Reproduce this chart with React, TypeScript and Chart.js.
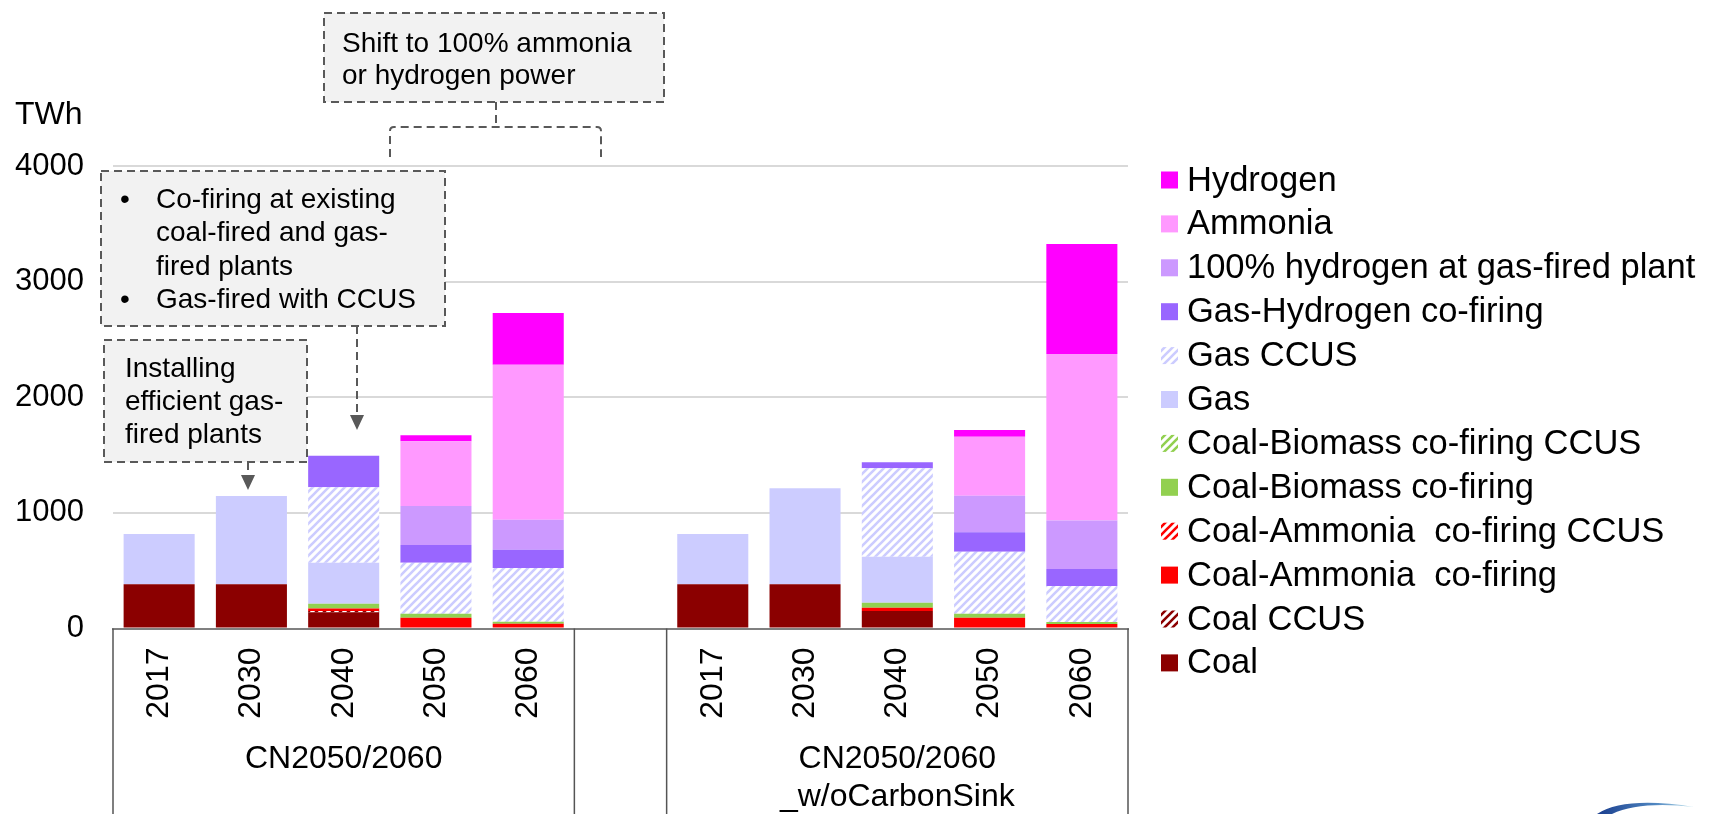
import React, { useEffect, useRef } from "react";
import { Chart, registerables } from "chart.js";
Chart.register(...registerables);

const FONT = "'Liberation Sans', Arial, Helvetica, sans-serif";

// Categories: two scenario groups with an empty spacer slot in between
const categories = ["2017", "2030", "2040", "2050", "2060", "", "2017", "2030", "2040", "2050", "2060"];
const groupNames = [["CN2050/2060"], ["CN2050/2060", "_w/oCarbonSink"]];
const groupCenterIndex = [2, 8];
const yTickValues = [0, 1000, 2000, 3000, 4000];
const unitLabel = "TWh";

// Series values (TWh), stacked bottom -> top
const coal = [382, 382, 140, 0, 0, null, 382, 382, 151, 0, 0];
const coalCCUS = [0, 0, 12, 0, 0, null, 0, 0, 0, 0, 0];
const coalAmmonia = [0, 0, 20, 94, 42, null, 0, 0, 29, 94, 39];
const coalAmmoniaCCUS = [0, 0, 0, 0, 0, null, 0, 0, 0, 0, 0];
const coalBiomass = [0, 0, 43, 34, 17, null, 0, 0, 43, 34, 17];
const coalBiomassCCUS = [0, 0, 0, 0, 0, null, 0, 0, 0, 0, 0];
const gas = [435, 764, 354, 0, 0, null, 435, 831, 398, 0, 0];
const gasCCUS = [0, 0, 652, 441, 464, null, 0, 0, 765, 536, 312];
const gasHydrogen = [0, 0, 274, 153, 159, null, 0, 0, 52, 168, 147];
const hydrogen100 = [0, 0, 0, 338, 259, null, 0, 0, 0, 317, 418];
const ammonia = [0, 0, 0, 559, 1341, null, 0, 0, 0, 510, 1442];
const hydrogen = [0, 0, 0, 52, 447, null, 0, 0, 0, 58, 951];

const seriesNames = [
  "Coal",
  "Coal CCUS",
  "Coal-Ammonia  co-firing",
  "Coal-Ammonia  co-firing CCUS",
  "Coal-Biomass co-firing",
  "Coal-Biomass co-firing CCUS",
  "Gas",
  "Gas CCUS",
  "Gas-Hydrogen co-firing",
  "100% hydrogen at gas-fired plant",
  "Ammonia",
  "Hydrogen",
];
const seriesData = [
  coal, coalCCUS, coalAmmonia, coalAmmoniaCCUS, coalBiomass, coalBiomassCCUS,
  gas, gasCCUS, gasHydrogen, hydrogen100, ammonia, hydrogen,
];
const seriesColors = [
  "#8B0000", "#8B0000", "#FF0000", "#FF0000", "#92D050", "#92D050",
  "#CCCCFF", "#CCCCFF", "#9966FF", "#CC99FF", "#FF99FF", "#FF00FF",
];
const seriesHatched = [false, true, false, true, false, true, false, true, false, false, false, false];

function makeHatch(color: string): CanvasPattern | string {
  const c = document.createElement("canvas");
  c.width = 8;
  c.height = 8;
  const g = c.getContext("2d");
  if (!g) return color;
  g.fillStyle = "#ffffff";
  g.fillRect(0, 0, 8, 8);
  g.strokeStyle = color;
  g.lineWidth = 2.6;
  g.beginPath();
  g.moveTo(-2, 10);
  g.lineTo(10, -2);
  g.moveTo(-2, 2);
  g.lineTo(2, -2);
  g.moveTo(6, 10);
  g.lineTo(10, 6);
  g.stroke();
  const p = g.createPattern(c, "repeat");
  return p || color;
}

function dashedRect(ctx: CanvasRenderingContext2D, x: number, y: number, w: number, h: number) {
  ctx.save();
  ctx.fillStyle = "#F2F2F2";
  ctx.fillRect(x, y, w, h);
  ctx.setLineDash([8, 5]);
  ctx.strokeStyle = "#595959";
  ctx.lineWidth = 2;
  ctx.strokeRect(x, y, w, h);
  ctx.restore();
}

function arrowDown(ctx: CanvasRenderingContext2D, x: number, y0: number, y1: number) {
  ctx.save();
  ctx.strokeStyle = "#595959";
  ctx.lineWidth = 2;
  ctx.setLineDash([8, 5]);
  ctx.beginPath();
  ctx.moveTo(x, y0);
  ctx.lineTo(x, y1 - 14);
  ctx.stroke();
  ctx.setLineDash([]);
  ctx.fillStyle = "#595959";
  ctx.beginPath();
  ctx.moveTo(x - 7, y1 - 15);
  ctx.lineTo(x + 7, y1 - 15);
  ctx.lineTo(x, y1);
  ctx.closePath();
  ctx.fill();
  ctx.restore();
}

const decorPlugin = {
  id: "decor",
  afterDraw(chart: any) {
    const ctx: CanvasRenderingContext2D = chart.ctx;
    const xs = chart.scales.x;
    const area = chart.chartArea;
    const p0 = xs.getPixelForValue(0);
    const half = (xs.getPixelForValue(1) - p0) / 2;

    // group separators below the axis
    ctx.save();
    ctx.strokeStyle = "#555555";
    ctx.lineWidth = 1.5;
    const seps = [
      xs.getPixelForValue(0) - half,
      xs.getPixelForValue(4) + half,
      xs.getPixelForValue(6) - half,
      xs.getPixelForValue(10) + half,
    ];
    seps.forEach((sx) => {
      ctx.beginPath();
      ctx.moveTo(sx, area.bottom);
      ctx.lineTo(sx, chart.height);
      ctx.stroke();
    });

    // group labels
    ctx.fillStyle = "#000";
    ctx.font = `32px ${FONT}`;
    ctx.textAlign = "center";
    ctx.textBaseline = "middle";
    groupNames.forEach((lines, gi) => {
      const cx = xs.getPixelForValue(groupCenterIndex[gi]);
      lines.forEach((ln, li) => ctx.fillText(ln, cx, 759 + li * 38));
    });

    // unit label
    ctx.textAlign = "left";
    ctx.font = `32px ${FONT}`;
    ctx.fillText(unitLabel, 15, 115);
    ctx.restore();

    // legend (reverse order)
    ctx.save();
    ctx.font = `34.5px ${FONT}`;
    ctx.textAlign = "left";
    ctx.textBaseline = "middle";
    const ds = chart.data.datasets;
    for (let i = 0; i < ds.length; i++) {
      const d = ds[ds.length - 1 - i];
      const cy = 180 + i * 43.9;
      ctx.fillStyle = d.backgroundColor;
      ctx.fillRect(1161, cy - 8.5, 17, 17);
      ctx.fillStyle = "#000";
      ctx.fillText(d.label, 1187, cy + 1);
    }
    ctx.restore();

    // annotations
    ctx.save();
    ctx.font = `28px ${FONT}`;
    ctx.textBaseline = "middle";
    ctx.textAlign = "left";

    // Box C (top)
    dashedRect(ctx, 324, 13, 340, 89);
    ctx.fillStyle = "#000";
    ctx.fillText("Shift to 100% ammonia", 342, 44);
    ctx.fillText("or hydrogen power", 342, 76);
    // bracket
    ctx.strokeStyle = "#595959";
    ctx.lineWidth = 2;
    ctx.setLineDash([8, 5]);
    ctx.beginPath();
    ctx.moveTo(496, 102);
    ctx.lineTo(496, 127);
    ctx.stroke();
    ctx.beginPath();
    ctx.moveTo(390, 157);
    ctx.lineTo(390, 131);
    ctx.quadraticCurveTo(390, 127, 394, 127);
    ctx.lineTo(597, 127);
    ctx.quadraticCurveTo(601, 127, 601, 131);
    ctx.lineTo(601, 157);
    ctx.stroke();
    ctx.setLineDash([]);

    // Box A
    dashedRect(ctx, 101, 171, 344, 155);
    ctx.fillStyle = "#000";
    ctx.fillText("\u2022", 120, 200);
    ctx.fillText("Co-firing at existing", 156, 200);
    ctx.fillText("coal-fired and gas-", 156, 233);
    ctx.fillText("fired plants", 156, 267);
    ctx.fillText("\u2022", 120, 300);
    ctx.fillText("Gas-fired with CCUS", 156, 300);
    arrowDown(ctx, 357, 326, 430);

    // Box B
    dashedRect(ctx, 104, 340, 203, 122);
    ctx.fillStyle = "#000";
    ctx.fillText("Installing", 125, 369);
    ctx.fillText("efficient gas-", 125, 402);
    ctx.fillText("fired plants", 125, 435);
    arrowDown(ctx, 248, 462, 490);
    ctx.restore();

    // partial logo at bottom right
    ctx.save();
    const gr = ctx.createLinearGradient(1598, 0, 1693, 0);
    gr.addColorStop(0, "#1B3F8F");
    gr.addColorStop(0.6, "#4F86C0");
    gr.addColorStop(1, "#BFE3EE");
    ctx.fillStyle = gr;
    ctx.beginPath();
    ctx.moveTo(1597, 814);
    ctx.quadraticCurveTo(1625, 796, 1694, 807);
    ctx.quadraticCurveTo(1640, 801, 1612, 814);
    ctx.closePath();
    ctx.fill();
    ctx.restore();
  },
};

export default function App() {
  const ref = useRef<HTMLCanvasElement | null>(null);

  useEffect(() => {
    if (!ref.current) return;
    const datasets = seriesNames.map((name, i) => ({
      label: name,
      data: seriesData[i],
      backgroundColor: seriesHatched[i] ? makeHatch(seriesColors[i]) : seriesColors[i],
      borderWidth: 0,
      categoryPercentage: 1,
      barPercentage: 0.77,
      stack: "s",
    }));

    const chart = new Chart(ref.current, {
      type: "bar",
      data: { labels: categories, datasets: datasets as any },
      options: {
        responsive: false,
        animation: false,
        devicePixelRatio: 1,
        layout: { padding: { left: 0, right: 582, top: 166, bottom: 0 } },
        plugins: {
          legend: { display: false },
          tooltip: { enabled: false },
          title: { display: false },
        },
        scales: {
          x: {
            stacked: true,
            grid: { display: false, drawTicks: false },
            border: { display: true, color: "#808080", width: 2 },
            ticks: {
              autoSkip: false,
              maxRotation: 90,
              minRotation: 90,
              padding: 19,
              color: "#000",
              font: { family: FONT, size: 32 },
            },
            afterFit: (s: any) => {
              s.height = 814 - 628.5;
            },
          },
          y: {
            stacked: true,
            min: 0,
            max: 4000,
            afterBuildTicks: (s: any) => {
              s.ticks = yTickValues.map((v) => ({ value: v }));
            },
            ticks: {
              stepSize: 1000,
              padding: 29,
              color: "#000",
              font: { family: FONT, size: 31 },
              callback: (v: any) => String(v),
            },
            grid: {
              drawTicks: false,
              lineWidth: 2,
              color: (c: any) => (c.tick && c.tick.value === 0 ? "rgba(0,0,0,0)" : "#D9D9D9"),
            },
            border: { display: false },
            afterFit: (s: any) => {
              s.width = 113;
            },
          },
        },
      },
      plugins: [decorPlugin],
    });
    return () => chart.destroy();
  }, []);

  return (
    <div style={{ position: "fixed", left: 0, top: 0, width: 1710, height: 814, background: "#fff" }}>
      <canvas ref={ref} width={1710} height={814} style={{ width: 1710, height: 814, display: "block" }} />
    </div>
  );
}
